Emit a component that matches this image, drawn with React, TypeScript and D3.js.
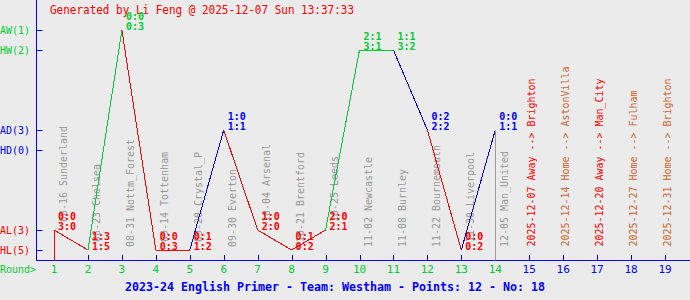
import React from 'react';
import * as d3 from 'd3';

const roundNumbers = [1, 2, 3, 4, 5, 6, 7, 8, 9, 10, 11, 12, 13, 14, 15, 16, 17, 18, 19];
const playedDates = ['08-16', '08-23', '08-31', '09-14', '09-20', '09-30', '10-04', '10-21', '10-25', '11-02', '11-08', '11-22', '11-30', '12-05'];
const playedOpponents = ['Sunderland', 'Chelsea', 'Nottm_Forest', 'Tottenham', 'Crystal_P', 'Everton', 'Arsenal', 'Brentford', 'Leeds', 'Newcastle', 'Burnley', 'Bournemouth', 'Liverpool', 'Man_United'];
const results = ['AL', 'HL', 'AW', 'HL', 'HL', 'AD', 'AL', 'HL', 'AL', 'HW', 'HW', 'AD', 'HL', 'AD'];
const halfTimeScores = ['0:0', '1:3', '0:0', '0:0', '0:1', '1:0', '1:0', '0:1', '2:0', '2:1', '1:1', '0:2', '0:0', '0:0'];
const fullTimeScores = ['3:0', '1:5', '0:3', '0:3', '1:2', '1:1', '2:0', '0:2', '2:1', '3:1', '3:2', '2:2', '0:2', '1:1'];
const futureDates = ['2025-12-07', '2025-12-14', '2025-12-20', '2025-12-27', '2025-12-31'];
const futureVenues = ['Away', 'Home', 'Away', 'Home', 'Home'];
const futureOpponents = ['Brighton', 'AstonVilla', 'Man_City', 'Fulham', 'Brighton'];
const levels = ['AW', 'HW', 'AD', 'HD', 'AL', 'HL'];
const levelRanks = [0, 1, 5, 6, 10, 11];
const headerText = 'Generated by Li Feng @ 2025-12-07 Sun 13:37:33';
const footerText = '2023-24 English Primer - Team: Westham - Points: 12 - No: 18';

const W = 690;
const H = 300;
const BG = '#ebebeb';
const BLUE = '#0000ff';
const RED = '#ff0000';
const GREEN = '#00cc33';
const GRAY = '#999999';
const HOME = '#cc6633';
const FONT = '"DejaVu Sans Mono", "Liberation Mono", monospace';

const colorOf = (r: string) => (r.endsWith('W') ? GREEN : r.endsWith('D') ? BLUE : RED);

export default function App() {
  const x = d3.scaleLinear().domain([1, 19]).range([54, 665]);
  const rank = d3.scaleOrdinal<string, number>().domain(levels).range(levelRanks);
  const yr = d3.scaleLinear().domain([0, 11]).range([30, 250]);
  const y = (lv: string) => yr(rank(lv));
  const axisX = 36.5;
  const axisY = 260.5;

  const pts = results.map((r, i) => ({ r, i, x: x(roundNumbers[i]), y: y(r) }));
  const line = d3.line<{ x: number; y: number }>().x((d) => d.x).y((d) => d.y);
  const lastIdx = pts.length - 1;

  const counts = levels.map((lv) => results.filter((r) => r === lv).length);

  return (
    <svg width={W} height={H} style={{ position: 'absolute', left: 0, top: 0, background: BG }} fontFamily={FONT}>
      <rect x={0} y={0} width={W} height={H} fill={BG} />
      {/* header */}
      <text x={50} y={14} fill={RED} fontSize={12} textLength={304} lengthAdjust="spacingAndGlyphs">
        {headerText}
      </text>

      {/* played fixture labels */}
      {pts.map((p) => {
        const txt = `${playedDates[p.i]} ${playedOpponents[p.i]}`;
        const start = p.r.endsWith('L') ? p.y - 8 : 247;
        const bx = p.x + 12.5;
        return (
          <text key={'pl' + p.i} transform={`translate(${bx},${start}) rotate(-90)`} fill={GRAY} fontSize={11}
            textLength={txt.length * 6} lengthAdjust="spacingAndGlyphs">
            {txt}
          </text>
        );
      })}

      {/* future fixture labels */}
      {futureDates.map((dt, j) => {
        const rd = roundNumbers[results.length + j];
        const txt = `${dt} ${futureVenues[j]} --> ${futureOpponents[j]}`;
        return (
          <text key={'fu' + j} transform={`translate(${x(rd) + 5.5},246.5) rotate(-90)`}
            fill={futureVenues[j] === 'Away' ? RED : HOME} fontSize={11}
            textLength={txt.length * 6} lengthAdjust="spacingAndGlyphs">
            {txt}
          </text>
        );
      })}

      {/* axes */}
      <line x1={axisX} y1={0} x2={axisX} y2={axisY} stroke={BLUE} strokeWidth={1} />
      <line x1={axisX} y1={axisY} x2={W} y2={axisY} stroke={BLUE} strokeWidth={1} />
      {levels.map((lv, k) => (
        <g key={lv}>
          <line x1={axisX} x2={axisX + 6} y1={Math.round(y(lv)) + 0.5} y2={Math.round(y(lv)) + 0.5} stroke={BLUE} />
          <text x={0} y={y(lv) + 3.5} fill={colorOf(lv)} fontSize={11} textLength={30} lengthAdjust="spacingAndGlyphs">
            {`${lv}(${counts[k]})`}
          </text>
        </g>
      ))}
      {roundNumbers.map((rd) => (
        <g key={'r' + rd}>
          <line x1={Math.round(x(rd)) + 0.5} x2={Math.round(x(rd)) + 0.5} y1={255} y2={axisY} stroke={BLUE} />
          <text x={x(rd)} y={273} textAnchor="middle" fill={rd <= results.length ? GREEN : BLUE} fontSize={11}>
            {rd}
          </text>
        </g>
      ))}
      <text x={0} y={273} fill={GREEN} fontSize={11} textLength={36} lengthAdjust="spacingAndGlyphs">Round&gt;</text>

      {/* first-round vertical and current-round marker */}
      <line x1={Math.round(pts[0].x) + 0.5} x2={Math.round(pts[0].x) + 0.5} y1={pts[0].y} y2={axisY} stroke={colorOf(pts[0].r)} />

      {/* result path segments */}
      {pts.slice(1).map((p) => (
        <path key={'s' + p.i} d={line([pts[p.i - 1], p]) || ''} stroke={colorOf(p.r)} strokeWidth={1} fill="none"
          shapeRendering="crispEdges" />
      ))}
      <line x1={Math.round(pts[lastIdx].x) + 0.5} x2={Math.round(pts[lastIdx].x) + 0.5} y1={pts[lastIdx].y} y2={axisY} stroke={GRAY} />

      {/* score labels */}
      {pts.map((p) => (
        <g key={'sc' + p.i} fill={colorOf(p.r)} fontSize={10} fontWeight="bold">
          <text x={p.x + 4} y={p.y - 10}>{halfTimeScores[p.i]}</text>
          <text x={p.x + 4} y={p.y - 0.5}>{fullTimeScores[p.i]}</text>
        </g>
      ))}

      {/* footer */}
      <text x={125} y={291} fill={BLUE} fontSize={12} fontWeight="bold" textLength={420} lengthAdjust="spacingAndGlyphs">
        {footerText}
      </text>
    </svg>
  );
}
